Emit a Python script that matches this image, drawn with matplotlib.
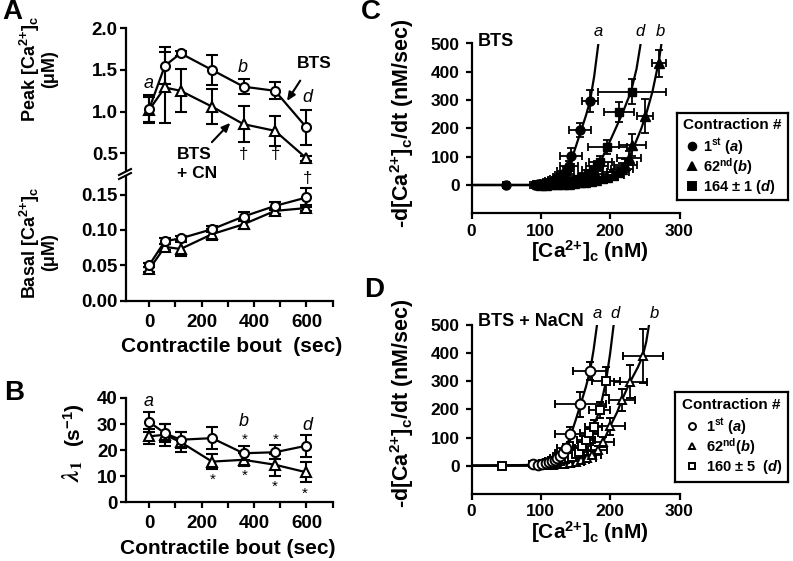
import matplotlib
matplotlib.use('Agg')
import matplotlib.pyplot as plt
from matplotlib.lines import Line2D

W, H = 793, 561

plt.rcParams['font.family'] = ['Liberation Sans', 'DejaVu Sans']
plt.rcParams['font.weight'] = 'bold'
plt.rcParams['mathtext.fontset'] = 'custom'
plt.rcParams['mathtext.rm'] = 'Liberation Sans:bold'
plt.rcParams['mathtext.bf'] = 'Liberation Sans:bold'
plt.rcParams['mathtext.it'] = 'Liberation Sans:italic:bold'
plt.rcParams['mathtext.sf'] = 'Liberation Sans:bold'

# ---------------- data: panels A and B ----------------
time_s = [0, 60, 120, 240, 360, 480, 600]
peak_bts = [1.03, 1.55, 1.70, 1.50, 1.30, 1.25, 0.81]
peak_bts_err = [0.17, 0.22, 0.03, 0.18, 0.09, 0.10, 0.21]
peak_cn = [1.02, 1.29, 1.25, 1.06, 0.85, 0.77, 0.44]
peak_cn_err = [0.15, 0.43, 0.26, 0.21, 0.22, 0.18, 0.03]
basal_bts = [0.050, 0.084, 0.088, 0.101, 0.119, 0.134, 0.146]
basal_bts_err = [0.003, 0.004, 0.004, 0.004, 0.006, 0.006, 0.013]
basal_cn = [0.044, 0.076, 0.073, 0.094, 0.108, 0.127, 0.131]
basal_cn_err = [0.003, 0.004, 0.010, 0.008, 0.006, 0.004, 0.004]
lam_bts = [30.8, 26.5, 24.0, 24.6, 18.8, 19.2, 21.7]
lam_bts_err = [3.8, 3.5, 3.0, 4.1, 2.6, 2.6, 4.2]
lam_cn = [25.3, 25.9, 23.1, 15.6, 16.3, 14.4, 11.5]
lam_cn_err = [3.0, 4.3, 4.0, 3.0, 2.5, 4.3, 3.9]
time_ticks = [0, 100, 200, 300, 400, 500, 600, 700]
time_ticklabels = ['0', '', '200', '', '400', '', '600', '']

# ---------------- data: panel C (BTS) ----------------
c1_x = [50, 92, 96, 100, 104, 108, 112, 116, 120, 124, 128, 132, 136, 140, 143, 157, 171]
c1_y = [0, 1, 2, 3, 5, 7, 10, 13, 17, 22, 28, 36, 48, 66, 102, 194, 297]
c1_xerr = [4, 7, 7, 8, 8, 9, 9, 10, 10, 11, 11, 12, 12, 13, 16, 16, 12]
c1_yerr = [8, 7, 7, 8, 8, 9, 10, 11, 12, 13, 14, 15, 16, 18, 27, 24, 40]
c1_fit_x = [0, 90, 100, 110, 120, 130, 138, 145, 157, 165, 171, 177, 183]
c1_fit_y = [0, 0, 3, 8, 17, 33, 55, 95, 185, 245, 297, 385, 500]

c62_x = [100, 108, 116, 124, 132, 140, 148, 156, 164, 172, 180, 188, 196, 204, 211, 217, 222, 227, 232, 250, 270]
c62_y = [1, 1.5, 2, 3, 4, 5, 7, 9, 12, 15, 18, 24, 30, 37, 47, 58, 72, 95, 141, 244, 430]
c62_xerr = [10, 10, 11, 11, 12, 12, 13, 13, 14, 14, 15, 15, 16, 16, 16, 16, 16, 17, 19, 12, 10]
c62_yerr = [8, 8, 9, 9, 10, 10, 11, 11, 12, 12, 13, 14, 15, 16, 17, 18, 20, 24, 40, 60, 48]
c62_fit_x = [0, 90, 140, 180, 205, 220, 228, 235, 245, 253, 261, 267, 271, 274]
c62_fit_y = [0, 0, 5, 18, 38, 65, 100, 140, 200, 260, 330, 400, 450, 500]

c164_x = [96, 104, 112, 120, 128, 136, 144, 152, 160, 168, 175, 181, 186, 196, 213, 231]
c164_y = [1, 2, 3.5, 5, 8, 11, 15, 20, 29, 39, 52, 67, 82, 135, 258, 330]
c164_xerr = [9, 9, 10, 10, 11, 11, 12, 13, 14, 14, 15, 16, 17, 28, 22, 49]
c164_yerr = [8, 8, 9, 9, 10, 10, 11, 12, 13, 14, 16, 18, 22, 25, 35, 45]
c164_fit_x = [0, 90, 120, 150, 170, 186, 196, 208, 218, 230, 238, 244]
c164_fit_y = [0, 0, 5, 18, 42, 82, 135, 200, 255, 330, 410, 500]

# ---------------- data: panel D (BTS + NaCN) ----------------
d1_x = [88, 96, 102, 107, 112, 116, 120, 124, 128, 132, 136, 142, 157, 171]
d1_y = [6, 3, 5, 8, 12, 15, 20, 26, 35, 46, 62, 112, 218, 337]
d1_xerr = [5, 8, 8, 9, 9, 10, 10, 11, 11, 12, 13, 21, 37, 25]
d1_yerr = [5, 7, 7, 8, 9, 10, 11, 12, 13, 14, 16, 27, 44, 33]
d1_fit_x = [0, 80, 100, 115, 125, 133, 142, 150, 157, 165, 171, 176, 181]
d1_fit_y = [0, 0, 4, 14, 28, 48, 100, 160, 215, 280, 337, 410, 500]

d62_x = [110, 118, 126, 134, 142, 150, 158, 166, 174, 182, 190, 200, 217, 229, 247]
d62_y = [2, 3, 5, 7, 9, 14, 19, 26, 39, 56, 85, 140, 234, 299, 390]
d62_xerr = [9, 10, 10, 11, 11, 12, 12, 13, 13, 14, 15, 22, 19, 24, 29]
d62_yerr = [7, 7, 8, 8, 9, 10, 11, 12, 13, 15, 18, 30, 40, 60, 95]
d62_fit_x = [0, 100, 140, 165, 180, 190, 200, 210, 217, 229, 240, 247, 252, 256]
d62_fit_y = [0, 1, 8, 25, 50, 85, 140, 190, 234, 299, 350, 390, 440, 500]

d160_x = [44, 105, 113, 120, 128, 135, 140, 145, 150, 155, 160, 165, 170, 176, 185, 194]
d160_y = [0, 5, 11, 13, 17, 23, 28, 32, 40, 50, 70, 92, 115, 139, 198, 300]
d160_xerr = [4, 7, 7, 9, 10, 10, 11, 11, 12, 12, 13, 13, 13, 12, 15, 20]
d160_yerr = [5, 7, 7, 8, 8, 9, 9, 10, 11, 12, 13, 15, 18, 25, 30, 50]
d160_fit_x = [0, 100, 130, 145, 155, 163, 170, 176, 185, 194, 200, 205]
d160_fit_y = [0, 3, 18, 32, 50, 85, 115, 139, 198, 300, 400, 500]

# ---------------- helpers ----------------
fig = plt.figure(figsize=(W / 100, H / 100), dpi=100)


def axes_px(l, t, r, b):
    return fig.add_axes([l / W, 1 - b / H, (r - l) / W, (b - t) / H])


def ftext(x, y, s, **kw):
    return fig.text(x / W, 1 - y / H, s, **kw)


def style(ax, fs, ypad=1.0, xpad=5.0):
    for s in ['top', 'right']:
        ax.spines[s].set_visible(False)
    for s in ['left', 'bottom']:
        ax.spines[s].set_linewidth(1.6)
    ax.tick_params(width=1.6, length=4.5, labelsize=fs, direction='out')
    ax.tick_params(axis='y', pad=ypad)
    ax.tick_params(axis='x', pad=xpad)
    ax.patch.set_alpha(0)


eb_open = dict(color='k', mfc='white', mec='k', mew=1.5, lw=1.6,
               capsize=4, capthick=1.5, elinewidth=1.5)

# ---------------- Panel A: peak ----------------
axAp = axes_px(125.5, 28.3, 332.7, 170)
style(axAp, 13.5)
axAp.spines['bottom'].set_visible(False)
axAp.tick_params(axis='x', bottom=False, labelbottom=False)
axAp.set_xlim(-90, 700)
axAp.set_ylim(0.3, 2.0)
axAp.set_yticks([0.5, 1.0, 1.5, 2.0])
axAp.set_yticklabels(['0.5', '1.0', '1.5', '2.0'])
axAp.errorbar(time_s, peak_cn, yerr=peak_cn_err, fmt='-^', ms=6.5, zorder=3, **eb_open)
axAp.errorbar(time_s, peak_bts, yerr=peak_bts_err, fmt='-o', ms=6.5, zorder=4, **eb_open)
axAp.annotate('', xy=(520, 1.10), xytext=(582, 1.40), annotation_clip=False,
              arrowprops=dict(arrowstyle='-|>,head_length=0.5,head_width=0.22', color='k', lw=1.5))
axAp.annotate('', xy=(317, 0.89), xytext=(232, 0.61), annotation_clip=False,
              arrowprops=dict(arrowstyle='-|>,head_length=0.5,head_width=0.22', color='k', lw=1.5))

# ---------------- Panel A: basal ----------------
axAb = axes_px(125.5, 177, 332.7, 300.5)
style(axAb, 13.5)
axAb.set_xlim(-90, 700)
axAb.set_ylim(0, 0.175)
axAb.set_yticks([0, 0.05, 0.10, 0.15])
axAb.set_yticklabels(['0.00', '0.05', '0.10', '0.15'])
axAb.set_xticks(time_ticks)
axAb.set_xticklabels(time_ticklabels)
axAb.errorbar(time_s, basal_cn, yerr=basal_cn_err, fmt='-^', ms=6.5, zorder=3, **eb_open)
axAb.errorbar(time_s, basal_bts, yerr=basal_bts_err, fmt='-o', ms=6.5, zorder=4, **eb_open)

# axis break marks
for dy in (0, 4):
    fig.add_artist(Line2D([119 / W, 131 / W], [1 - (175 + dy) / H, 1 - (169 + dy) / H],
                          color='k', lw=1.5, transform=fig.transFigure))

# ---------------- Panel B ----------------
axB = axes_px(125.5, 398, 332.7, 502.3)
style(axB, 13.5)
axB.set_xlim(-90, 700)
axB.set_ylim(0, 40)
axB.set_yticks([0, 10, 20, 30, 40])
axB.set_xticks(time_ticks)
axB.set_xticklabels(time_ticklabels)
axB.errorbar(time_s, lam_cn, yerr=lam_cn_err, fmt='-^', ms=6.5, zorder=3, **eb_open)
axB.errorbar(time_s, lam_bts, yerr=lam_bts_err, fmt='-o', ms=6.5, zorder=4, **eb_open)

# ---------------- Panels C and D ----------------
eb_fill = dict(color='k', ecolor='k', elinewidth=1.3, capsize=3, capthick=1.3, zorder=3, ls='none')


def curve_axes(t, b):
    ax = axes_px(471.5, t, 679.5, b)
    style(ax, 12.5, ypad=4, xpad=3)
    ax.set_xlim(0, 300)
    ax.set_ylim(-100, 500)
    ax.set_xticks([0, 100, 200, 300])
    ax.set_yticks([0, 100, 200, 300, 400, 500])
    return ax


axC = curve_axes(43.5, 213.3)
axC.plot(c1_fit_x, c1_fit_y, color='k', lw=1.6, zorder=2)
axC.plot(c62_fit_x, c62_fit_y, color='k', lw=1.6, zorder=2)
axC.plot(c164_fit_x, c164_fit_y, color='k', lw=1.6, zorder=2)
axC.errorbar(c62_x, c62_y, xerr=c62_xerr, yerr=c62_yerr, marker='^', ms=6.5, **eb_fill)
axC.errorbar(c164_x, c164_y, xerr=c164_xerr, yerr=c164_yerr, marker='s', ms=6, **eb_fill)
axC.errorbar(c1_x, c1_y, xerr=c1_xerr, yerr=c1_yerr, marker='o', ms=6.5, **eb_fill)

axD = curve_axes(325, 493.8)
eb_o = dict(eb_fill, mfc='white', mec='k', mew=1.4)
axD.plot(d1_fit_x, d1_fit_y, color='k', lw=1.6, zorder=2)
axD.plot(d62_fit_x, d62_fit_y, color='k', lw=1.6, zorder=2)
axD.plot(d160_fit_x, d160_fit_y, color='k', lw=1.6, zorder=2)
axD.errorbar(d62_x, d62_y, xerr=d62_xerr, yerr=d62_yerr, marker='^', ms=6, **eb_o)
axD.errorbar(d160_x, d160_y, xerr=d160_xerr, yerr=d160_yerr, marker='s', ms=5.5, **eb_o)
axD.errorbar(d1_x, d1_y, xerr=d1_xerr, yerr=d1_yerr, marker='o', ms=7, **eb_o)


# ---------------- legends ----------------
def legend_box(l, t, r, b, title_y, rows_y, labels, markers, filled, text_x):
    lax = axes_px(l, t, r, b)
    lax.set_xlim(l, r)
    lax.set_ylim(b, t)
    lax.set_xticks([])
    lax.set_yticks([])
    for s in lax.spines.values():
        s.set_linewidth(1.6)
    lax.text((l + r) / 2, title_y, 'Contraction #', ha='center', va='center', fontsize=11)
    for y, lab, mk in zip(rows_y, labels, markers):
        lax.plot([691.7], [y], marker=mk, ms=5.5 if filled else 5,
                 color='k', mfc='k' if filled else 'white', mew=1.4, ls='none')
        lax.text(text_x, y + 1, lab, ha='left', va='center', fontsize=10.5)


legend_box(677, 113, 788, 200, 125, [146, 166, 186],
           [r'1$^{\mathrm{st}}$ ($\mathit{a}$)', r'62$^{\mathrm{nd}}$($\mathit{b}$)',
            r'164 ± 1 ($\mathit{d}$)'],
           ['o', '^', 's'], True, 703)
legend_box(675, 392, 788, 482, 405, [425.5, 446, 466],
           [r'1$^{\mathrm{st}}$ ($\mathit{a}$)', r'62$^{\mathrm{nd}}$($\mathit{b}$)',
            r'160 ± 5  ($\mathit{d}$)'],
           ['o', '^', 's'], False, 706)

# ---------------- text ----------------
for lx, ly, s in [(12, 12, 'A'), (14, 393, 'B'), (371, 12, 'C'), (374, 290, 'D')]:
    ftext(lx, ly, s, fontsize=20, ha='center', va='center')

ca = r'[Ca$^{\mathrm{2{+}}}$]$_{\mathrm{c}}$'
ftext(232, 347, 'Contractile bout  (sec)', fontsize=15, ha='center', va='center')
ftext(228, 549, 'Contractile bout (sec)', fontsize=15, ha='center', va='center')
ftext(30, 69, 'Peak ' + ca, fontsize=13, rotation=90, ha='center', va='center')
ftext(50, 69, '(μM)', fontsize=13, rotation=90, ha='center', va='center')
ftext(30, 243, 'Basal ' + ca, fontsize=13, rotation=90, ha='center', va='center')
ftext(50, 252, '(μM)', fontsize=13, rotation=90, ha='center', va='center')
ftext(74, 425, r'(s$^{\mathrm{-1}}$)', fontsize=15, rotation=90, ha='center', va='center')
ftext(73, 471, r'$\lambda_1$', fontsize=17, rotation=90, ha='center', va='center',
      math_fontfamily='stix', fontweight='normal')
ylab = '-d' + ca + '/dt (nM/sec)'
ftext(402, 123, ylab, fontsize=15.5, rotation=90, ha='center', va='center')
ftext(402, 403, ylab, fontsize=15.5, rotation=90, ha='center', va='center')
xlab = ca + ' (nM)'
ftext(590, 251, xlab, fontsize=15, ha='center', va='center')
ftext(590, 532, xlab, fontsize=15, ha='center', va='center')

# panel A annotations
it = dict(fontsize=13, fontstyle='italic', fontweight='normal', ha='center', va='center')
ftext(149, 83, 'a', **it)
ftext(243, 68, 'b', **it)
ftext(307, 97, 'd', **it)
ftext(314, 63, 'BTS', fontsize=12.5, ha='center', va='center')
ftext(177, 164, 'BTS\n+ CN', fontsize=12.5, ha='left', va='center', linespacing=1.3)
dg = dict(fontsize=12, fontweight='normal', ha='center', va='center')
ftext(243.5, 154, '†', **dg)
ftext(275, 154, '†', **dg)
ftext(307, 178, '†', **dg)

# panel B annotations
ftext(148.5, 402, 'a', **it)
ftext(244, 422, 'b', **it)
ftext(307, 425, 'd', **it)
st = dict(fontsize=11, fontweight='normal', ha='center', va='center')
for sx, sy in [(244.3, 440), (276, 440), (212.7, 480), (244.3, 476), (275, 487), (304.3, 494)]:
    ftext(sx, sy, '*', **st)

# panel C / D annotations
ftext(478, 42, 'BTS', fontsize=13, ha='left', va='center')
ftext(478, 322, 'BTS + NaCN', fontsize=13, ha='left', va='center')
itc = dict(fontsize=12, fontstyle='italic', fontweight='normal', ha='center', va='center')
ftext(598, 32, 'a', **itc)
ftext(640, 32, 'd', **itc)
ftext(660, 32, 'b', **itc)
ftext(597.5, 314, 'a', **itc)
ftext(615, 314, 'd', **itc)
ftext(654, 314, 'b', **itc)

fig.savefig('out.png', dpi=100)
